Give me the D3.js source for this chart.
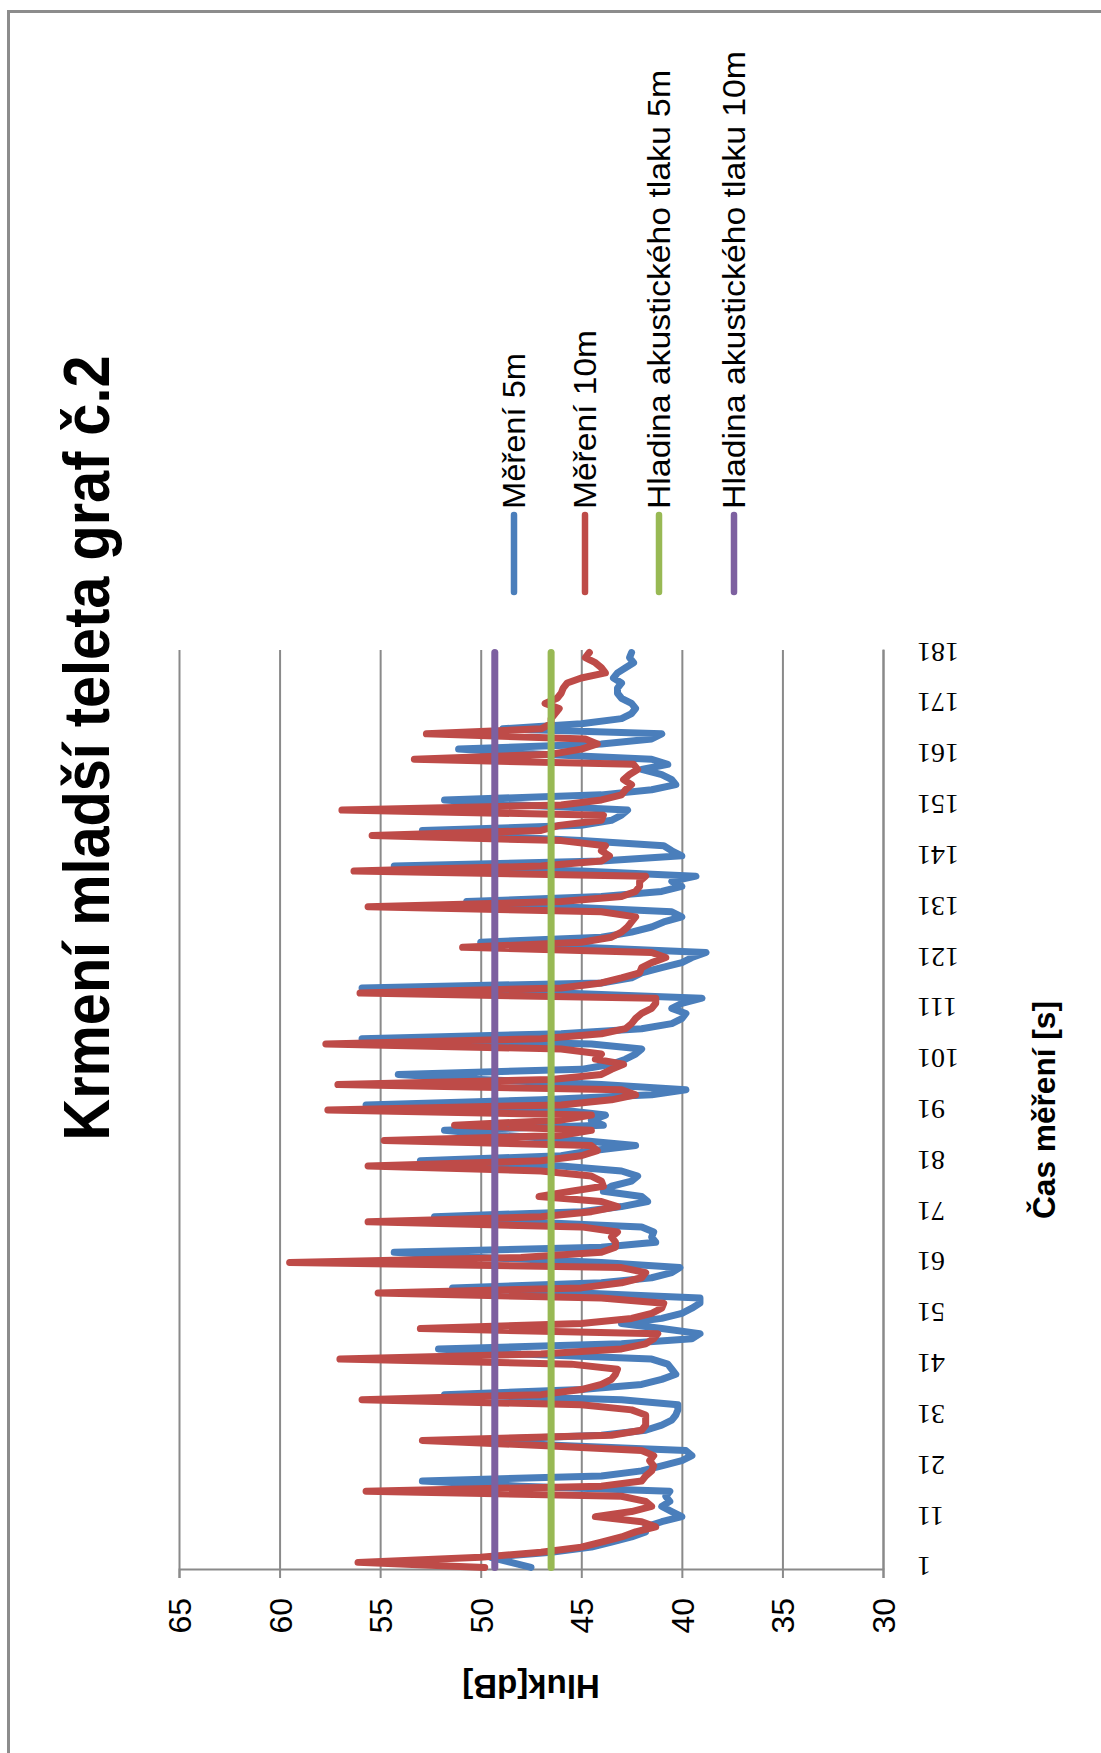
<!DOCTYPE html>
<html>
<head>
<meta charset="utf-8">
<script src="https://cdn.jsdelivr.net/npm/d3@7"></script>
<style>
  body { margin: 0; background: #fff; }
  svg { display: block; }
</style>
</head>
<body>
<svg width="1101" height="1753"></svg>
<script>
// values, one per second (1..181)
const mereni5m = [
  47.5, 48.5, 49.5, 46.5, 44.5, 43.5, 42.5, 41.8, 41.8, 41.0,
  40.0, 40.5, 41.0, 40.6, 40.8, 40.6, 48.0, 52.9, 44.0, 42.0,
  41.0, 40.0, 39.5, 39.8, 46.0, 50.7, 44.0, 41.8, 41.0, 40.5,
  40.3, 40.2, 40.2, 43.0, 51.8, 45.0, 42.0, 41.0, 40.3, 40.5,
  40.7, 41.5, 48.0, 52.1, 43.0, 39.5, 39.1, 41.0, 43.0, 41.0,
  40.0, 39.5, 39.1, 39.1, 45.0, 51.4, 44.0, 41.5, 40.5, 40.1,
  44.0, 50.0, 54.3, 44.0, 41.3, 41.5, 41.4, 42.0, 48.0, 52.3,
  45.0, 43.0, 41.7, 42.0, 43.9, 43.5, 42.5, 42.2, 43.0, 46.0,
  53.0, 46.0, 44.5, 42.3, 45.0, 49.0, 51.8, 43.9, 44.5, 43.8,
  46.0, 55.7, 47.0, 41.5, 39.8, 44.0, 50.0, 54.1, 45.0, 43.5,
  42.8, 42.3, 42.0, 44.5, 55.9, 46.0, 42.0, 40.5, 40.0, 39.8,
  40.5, 40.0, 39.0, 46.0, 55.9, 44.0, 42.5, 42.0, 41.0, 40.0,
  39.5, 38.8, 45.0, 50.0, 44.0, 42.5, 41.5, 40.9, 40.0, 40.5,
  46.0, 50.7, 44.0, 41.0, 40.0, 40.5, 39.3, 45.0, 54.3, 44.0,
  40.0, 40.5, 40.9, 45.0, 50.0, 52.9, 45.0, 43.5, 43.0, 42.7,
  48.0, 51.8, 44.0, 41.5, 40.3, 40.5, 41.0, 42.0, 40.7, 41.5,
  47.0, 51.1, 44.0, 41.5, 41.0, 48.9, 45.0, 43.0, 42.5, 42.3,
  42.5, 43.0, 43.2, 43.2, 43.0, 43.4, 43.2, 42.8, 42.4, 42.6,
  42.5
];
const mereni10m = [
  49.8, 56.1, 50.0, 47.0, 45.0, 44.0, 43.0, 42.3, 41.3, 42.0,
  44.3, 42.5, 41.5, 41.8, 43.0, 55.7, 44.0, 42.0, 41.8, 41.5,
  41.4, 41.6, 41.4, 42.0, 47.0, 52.9, 43.5, 42.0, 41.8, 41.8,
  41.8, 42.5, 45.0, 55.9, 47.0, 45.0, 44.0, 43.5, 43.3, 43.2,
  45.5, 57.0, 47.0, 43.0, 41.8, 41.4, 41.2, 53.0, 45.0, 42.5,
  41.5, 41.0, 40.9, 44.0, 55.1, 45.0, 43.0, 42.0, 41.8, 43.0,
  59.5, 48.0, 44.0, 43.3, 43.3, 43.5, 43.2, 45.0, 55.6, 47.0,
  44.5, 43.2, 44.0, 47.1, 45.5, 43.9, 44.0, 44.5, 47.0, 55.6,
  47.0, 45.0, 44.2, 44.5, 54.8, 46.0, 44.5, 51.3, 46.0, 44.5,
  57.6, 46.0, 43.5, 42.3, 43.0, 57.1, 46.5, 44.0, 43.5, 42.9,
  44.3, 44.0, 46.0, 57.7, 47.0, 44.0, 42.8, 42.5, 42.3, 42.0,
  41.5, 41.3, 41.3, 56.0, 46.0, 44.0, 43.0, 42.1, 42.0, 41.5,
  40.8, 41.5, 50.9, 45.0, 43.5, 43.0, 42.7, 42.5, 42.3, 44.0,
  55.6, 46.0, 43.0, 42.3, 42.1, 42.1, 41.8, 56.3, 47.0, 44.0,
  43.6, 44.0, 43.8, 46.0, 55.4, 47.0, 46.1, 44.0, 43.9, 56.9,
  46.0, 44.0, 43.0, 42.8, 42.5, 42.9, 42.6, 42.2, 42.4, 53.3,
  46.5, 45.0, 44.2, 44.8, 52.7, 47.0, 46.5, 46.5, 46.3, 46.1,
  46.8, 46.2, 46.0, 45.9, 45.7, 45.0, 43.8, 44.0, 44.3, 44.8,
  44.6
];
const hladina5m = 46.5;
const hladina10m = 49.3;

const seconds = d3.range(1, 182);
const secondTicks = [1, 11, 21, 31, 41, 51, 61, 71, 81, 91, 101, 111, 121, 131, 141, 151, 161, 171, 181];
const dbTicks = [30, 35, 40, 45, 50, 55, 60, 65];
const seriesNames = ['Měření 5m', 'Měření 10m', 'Hladina akustického tlaku 5m', 'Hladina akustického tlaku 10m'];
const seriesColors = ['#4a7ebb', '#be4b48', '#98b954', '#7d60a0'];

const chartTitle = 'Krmení mladší teleta graf č.2';
const xAxisLabel = 'Čas měření [s]';
const yAxisLabel = 'Hluk[dB]';

const svg = d3.select('svg');
const width = +svg.attr('width');
const height = +svg.attr('height');

// outer frame of the sheet
svg.append('rect')
  .attr('x', 8.5).attr('y', 11.5)
  .attr('width', 1300).attr('height', 2000)
  .attr('fill', 'none')
  .attr('stroke', '#8c8c8c')
  .attr('stroke-width', 3);

const render = () => {
  // the whole chart is laid on its side: draw it upright, then turn it
  const chartW = height;
  const margin = { top: 179, right: 650, bottom: 218, left: 183 };
  const innerWidth = chartW - margin.left - margin.right;
  const innerHeight = width - margin.top - margin.bottom;

  const root = svg.append('g')
    .attr('transform', `translate(0, ${height}) rotate(-90)`);

  const xScale = d3.scalePoint()
    .domain(seconds)
    .range([0, innerWidth])
    .padding(0.5);

  const yScale = d3.scaleLinear()
    .domain([30, 65])
    .range([innerHeight, 0]);

  const g = root.append('g')
    .attr('transform', `translate(${margin.left}, ${margin.top})`);

  // gridlines
  g.append('g')
    .call(d3.axisLeft(yScale).tickValues(dbTicks).tickSize(-innerWidth).tickFormat(''))
    .call(a => a.select('.domain').remove())
    .selectAll('line')
    .attr('stroke', '#8a8a8a')
    .attr('stroke-width', 2);

  // value axis
  const yAxisG = g.append('g')
    .call(d3.axisLeft(yScale).tickValues(dbTicks).tickSize(8).tickPadding(20));
  yAxisG.selectAll('line, path').attr('stroke', '#8a8a8a').attr('stroke-width', 2);
  yAxisG.selectAll('text')
    .attr('font-family', 'Liberation Sans, Arial, sans-serif')
    .attr('font-size', 32)
    .attr('fill', '#000')
    .attr('dy', '0.36em');

  // category axis
  const xAxisG = g.append('g')
    .attr('transform', `translate(0, ${innerHeight})`)
    .call(d3.axisBottom(xScale).tickValues(secondTicks).tickSize(0).tickPadding(0));
  xAxisG.select('.domain').attr('stroke', '#8a8a8a').attr('stroke-width', 2);
  xAxisG.selectAll('text')
    .attr('font-family', 'Liberation Serif, Times New Roman, serif')
    .attr('font-size', 28)
    .attr('fill', '#000')
    .attr('text-anchor', 'end')
    .attr('dy', null)
    .attr('y', null)
    .attr('dominant-baseline', 'central')
    .attr('transform', 'translate(0, 34) rotate(-90)');

  const line = d3.line()
    .x((d, i) => xScale(seconds[i]))
    .y(d => yScale(d));

  const series = [
    mereni5m,
    mereni10m,
    seconds.map(() => hladina5m),
    seconds.map(() => hladina10m)
  ];

  g.selectAll('path.series')
    .data(series)
    .enter()
      .append('path')
      .attr('class', 'series')
      .attr('d', line)
      .attr('fill', 'none')
      .attr('stroke', (d, i) => seriesColors[i])
      .attr('stroke-width', 7)
      .attr('stroke-linejoin', 'round')
      .attr('stroke-linecap', 'round');

  // title
  root.append('text')
    .text(chartTitle)
    .attr('x', 1005)
    .attr('y', 109)
    .attr('text-anchor', 'middle')
    .attr('textLength', 785)
    .attr('lengthAdjust', 'spacingAndGlyphs')
    .attr('font-family', 'Liberation Sans, Arial, sans-serif')
    .attr('font-weight', 'bold')
    .attr('font-size', 64);

  // axis titles
  root.append('text')
    .text(xAxisLabel)
    .attr('x', margin.left + innerWidth / 2)
    .attr('y', 1055)
    .attr('text-anchor', 'middle')
    .attr('textLength', 218)
    .attr('lengthAdjust', 'spacingAndGlyphs')
    .attr('font-family', 'Liberation Sans, Arial, sans-serif')
    .attr('font-weight', 'bold')
    .attr('font-size', 32);

  root.append('text')
    .text(yAxisLabel)
    .attr('text-anchor', 'middle')
    .attr('dominant-baseline', 'central')
    .attr('transform', `translate(67, ${margin.top + innerHeight / 2}) rotate(-90)`)
    .attr('font-family', 'Liberation Sans, Arial, sans-serif')
    .attr('font-weight', 'bold')
    .attr('font-size', 33);

  // legend
  const legendPos = [514, 585, 659, 734];
  const legendLen = [156, 179, 439, 458];
  const legend = root.append('g');
  const item = legend.selectAll('g')
    .data(seriesNames)
    .enter()
      .append('g')
      .attr('transform', (d, i) => `translate(0, ${legendPos[i]})`);
  item.append('line')
    .attr('x1', 1161).attr('x2', 1238)
    .attr('stroke', (d, i) => seriesColors[i])
    .attr('stroke-width', 6.5)
    .attr('stroke-linecap', 'round');
  item.append('text')
    .text(d => d)
    .attr('x', 1244)
    .attr('dominant-baseline', 'central')
    .attr('textLength', (d, i) => legendLen[i])
    .attr('lengthAdjust', 'spacingAndGlyphs')
    .attr('font-family', 'Liberation Sans, Arial, sans-serif')
    .attr('font-size', 32);
};

render();
</script>
</body>
</html>
